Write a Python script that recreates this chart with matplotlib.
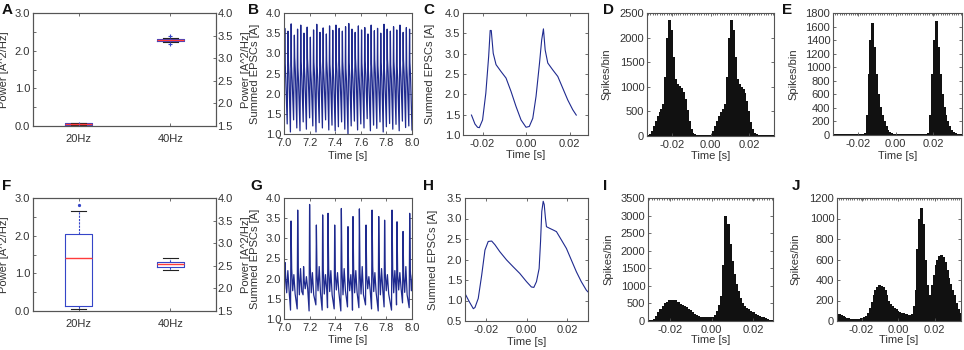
import numpy as np
import matplotlib
matplotlib.use('Agg')
import matplotlib.pyplot as plt
from matplotlib.ticker import MultipleLocator, FormatStrFormatter

plt.rcParams['font.family'] = ['Liberation Sans', 'DejaVu Sans']
plt.rcParams['font.size'] = 8

# ---------------- data ----------------
box_labels = ['20Hz', '40Hz']
# panel A box stats (20Hz, 40Hz)
a_med = [0.05, 2.27]
a_q1 = [0.03, 2.25]
a_q3 = [0.07, 2.30]
a_wlo = [0.02, 2.22]
a_whi = [0.08, 2.33]
a_fliers = [[0.045], [2.39, 2.17]]
# panel F box stats
f_med = [1.40, 1.25]
f_q1 = [0.14, 1.16]
f_q3 = [2.05, 1.31]
f_wlo = [0.06, 1.09]
f_whi = [2.65, 1.42]
f_fliers = [[2.82], []]

# panel B: 40 cycles (trough, peak, shoulder, knee)
b_lo = [1.10, 1.25, 1.05, 1.35, 1.15, 1.08, 1.30, 1.12, 1.40, 1.20, 1.05, 1.28, 1.15, 1.35, 1.10, 1.22, 1.08, 1.18, 1.30, 1.12,
        0.98, 1.20, 1.32, 1.10, 1.25, 1.15, 1.38, 1.08, 1.22, 1.14, 1.30, 1.05, 1.18, 1.26, 1.12, 1.24, 1.08, 1.32, 1.16, 1.20]
b_hi = [3.62, 3.55, 3.73, 3.45, 3.60, 3.70, 3.50, 3.65, 3.40, 3.58, 3.72, 3.52, 3.63, 3.48, 3.68, 3.57, 3.70, 3.62, 3.55, 3.66,
        3.74, 3.60, 3.52, 3.68, 3.58, 3.64, 3.48, 3.70, 3.56, 3.62, 3.50, 3.72, 3.60, 3.55, 3.66, 3.58, 3.70, 3.52, 3.64, 3.60]
b_sh = [2.75, 2.85, 2.70, 2.90, 2.65, 2.80, 2.72, 2.88, 2.60, 2.78, 2.70, 2.85, 2.66, 2.82, 2.74, 2.68, 2.86, 2.72, 2.80, 2.64,
        2.78, 2.70, 2.88, 2.66, 2.76, 2.82, 2.62, 2.74, 2.84, 2.70, 2.78, 2.66, 2.86, 2.72, 2.80, 2.68, 2.76, 2.84, 2.70, 2.78]
b_kn = [2.40, 2.50, 2.35, 2.55, 2.30, 2.45, 2.38, 2.52, 2.28, 2.44, 2.36, 2.50, 2.32, 2.48, 2.40, 2.34, 2.52, 2.38, 2.46, 2.30,
        2.44, 2.36, 2.54, 2.32, 2.42, 2.48, 2.28, 2.40, 2.50, 2.36, 2.44, 2.32, 2.52, 2.38, 2.46, 2.34, 2.42, 2.50, 2.36, 2.44]
b_start = 7.0
b_period = 0.025

# panel C: averaged EPSC waveform
c_t = [-0.0251, -0.0235, -0.0223, -0.0215, -0.0200, -0.0185, -0.0172, -0.0165, -0.0160, -0.0151, -0.0138, -0.0115,
       -0.0092, -0.0069, -0.0046, -0.0023, 0.0000, 0.0015, 0.0031, 0.0046, 0.0062, 0.0072, 0.0080, 0.0088, 0.0100,
       0.0123, 0.0146, 0.0169, 0.0192, 0.0215, 0.0231]
c_v = [1.49, 1.27, 1.19, 1.18, 1.37, 2.03, 2.93, 3.57, 3.57, 3.01, 2.73, 2.56,
       2.40, 2.07, 1.70, 1.37, 1.19, 1.21, 1.41, 1.95, 2.77, 3.34, 3.61, 3.09, 2.77,
       2.60, 2.44, 2.15, 1.86, 1.62, 1.49]

# panel D histogram (1 ms bins from -0.033 s)
d_start = -0.033
d_counts = [30, 40, 100, 200, 300, 400, 480, 550, 650, 1200, 2000, 2350, 2150, 1600, 1150, 1050, 1020, 980, 900, 750,
            520, 300, 150, 70, 40, 30, 30, 30, 30, 30, 30, 30, 30,
            40, 100, 200, 300, 400, 480, 550, 650, 1200, 2000, 2350, 2150, 1600, 1150, 1050, 1000, 950, 880, 720,
            500, 280, 140, 70, 40, 30, 30, 30, 30, 30, 30, 30, 30, 30]
# panel E histogram (1 ms bins from -0.034 s)
e_start = -0.034
e_counts = [20] * 17 + [30, 300, 900, 1400, 1650, 1300, 900, 600, 420, 300, 200, 130, 80, 50, 35] + [20] * 19 + \
           [30, 300, 900, 1400, 1680, 1300, 900, 600, 420, 300, 200, 130, 80, 50, 35] + [20] * 3

# panel G: 20 Hz spikes
g_t = [7.008, 7.055, 7.107, 7.153, 7.200, 7.253, 7.302, 7.344, 7.396, 7.448, 7.500, 7.539, 7.589, 7.641, 7.688,
       7.740, 7.786, 7.844, 7.883, 7.930, 7.982]
g_hi = [2.40, 3.43, 3.70, 2.30, 3.84, 3.33, 3.58, 3.62, 3.33, 3.74, 3.29, 3.54, 3.73, 3.33, 3.70, 3.54, 3.45, 3.70,
        3.41, 3.17, 3.62]
g_lo = [1.75, 1.22, 1.25, 1.60, 1.20, 1.35, 1.22, 1.28, 1.25, 1.20, 1.30, 1.22, 1.28, 1.35, 1.25, 1.20, 1.30, 1.22,
        1.35, 1.40, 1.28]
g_m1 = [2.05, 2.25, 2.15, 1.95, 2.30, 2.10, 2.20, 2.25, 2.10, 2.20, 2.05, 2.25, 2.15, 2.10, 2.30, 2.20, 2.15, 2.25,
        2.10, 2.05, 2.20]
g_m2 = [1.65, 1.70, 1.60, 1.75, 1.65, 1.70, 1.62, 1.68, 1.72, 1.60, 1.70, 1.65, 1.62, 1.75, 1.68, 1.60, 1.70, 1.65,
        1.72, 1.66, 1.70]
g_m3 = [2.20, 2.10, 2.25, 2.05, 2.15, 2.30, 2.10, 2.20, 2.15, 2.25, 2.10, 2.20, 2.30, 2.05, 2.15, 2.25, 2.10, 2.20,
        2.15, 2.30, 2.10]
g_m4 = [1.70, 1.62, 1.68, 1.75, 1.60, 1.65, 1.72, 1.60, 1.68, 1.70, 1.62, 1.66, 1.60, 1.72, 1.65, 1.70, 1.62, 1.68,
        1.75, 1.60, 1.65]

# panel H: averaged EPSC waveform
h_t = [-0.0302, -0.0281, -0.0261, -0.0253, -0.0237, -0.0220, -0.0204, -0.0188, -0.0171, -0.0155, -0.0131, -0.0098,
       -0.0065, -0.0033, 0.0000, 0.0024, 0.0036, 0.0049, 0.0062, 0.0069, 0.0075, 0.0082, 0.0087, 0.0093, 0.0098,
       0.0114, 0.0131, 0.0147, 0.0171, 0.0196, 0.0220, 0.0245, 0.0269, 0.0294, 0.0302]
h_v = [1.17, 0.97, 0.80, 0.83, 1.05, 1.62, 2.23, 2.44, 2.45, 2.36, 2.19, 1.99,
       1.82, 1.66, 1.46, 1.33, 1.32, 1.46, 1.78, 2.44, 3.17, 3.42, 3.34, 3.01, 2.80,
       2.76, 2.72, 2.68, 2.48, 2.27, 1.99, 1.70, 1.46, 1.25, 1.21]

# panel I histogram (1 ms bins from -0.031 s)
i_start = -0.031
i_counts = [40, 40, 40, 60, 150, 250, 350, 430, 500, 550, 590, 610, 610, 590, 530, 480, 450, 420, 390, 340,
            300, 260, 210, 170, 140, 120, 110, 100, 100, 100, 110, 120, 160, 280, 450, 700, 1600, 3000, 2750, 2200,
            1700, 1350, 1050, 850, 650, 520, 440, 380, 330, 290, 250, 210, 180, 150, 120, 100, 80, 60, 40, 40, 40]
# panel J histogram (1 ms bins from -0.034 s)
j_start = -0.034
j_counts = [70, 65, 55, 50, 40, 30, 25, 20, 20, 20, 20, 20, 20, 25, 30, 40, 50, 80, 130, 190,
            250, 300, 330, 350, 345, 330, 300, 250, 200, 170, 150, 130, 115, 100, 90, 80, 75, 70, 65, 60,
            60, 70, 150, 300, 700, 1000, 1100, 950, 600, 350, 220, 250, 350, 450, 550, 600, 630, 640, 620, 580,
            500, 420, 360, 300, 250, 180, 120, 80, 60]
bin_width = 0.001

# ---------------- styling ----------------
W, H = 964, 350
fig = plt.figure(figsize=(W / 100, H / 100), dpi=100)
TXT = '#333333'
SP = '#555555'
BLUE = '#1f2a8f'
BOXBLUE = '#3545c8'
RED = '#ff3b3b'
FS = 8


def add_ax(x0, y0, x1, y1):
    return fig.add_axes([x0 / W, 1 - y1 / H, (x1 - x0) / W, (y1 - y0) / H])


def style(ax, right=True):
    for s in ax.spines.values():
        s.set_color(SP)
        s.set_linewidth(0.8)
    ax.tick_params(which='both', direction='in', length=2.5, width=0.6, color=SP, labelcolor=TXT,
                   labelsize=FS, pad=2, top=True, right=right)
    ax.tick_params(axis='x', pad=3)


def letter(px, py, s):
    fig.text(px / W, 1 - py / H, s, fontsize=11, fontweight='bold', ha='left', va='top', color='#111111')


def labels(ax, ylab, yx, xlab=None, xy=None):
    ax.set_ylabel(ylab, color=TXT, fontsize=FS)
    ax.yaxis.set_label_coords(yx, 0.5)
    if xlab:
        ax.set_xlabel(xlab, color=TXT, fontsize=FS, va='top')
        ax.xaxis.set_label_coords(0.5, xy)


def box_panel(box, med, q1, q3, wlo, whi, fliers, fmarker, letter_pos, lab):
    ax = add_ax(*box)
    stats = []
    for k in range(len(box_labels)):
        stats.append(dict(med=med[k], q1=q1[k], q3=q3[k], whislo=wlo[k], whishi=whi[k], fliers=fliers[k]))
    ax.bxp(stats, positions=[1, 2], widths=0.3, capwidths=0.16,
           boxprops=dict(color=BOXBLUE, lw=0.8),
           medianprops=dict(color=RED, lw=1.0),
           whiskerprops=dict(color=BOXBLUE, ls=(0, (2, 1)), lw=0.8),
           capprops=dict(color='#222222', lw=0.8),
           flierprops=dict(marker=fmarker, markeredgecolor=BOXBLUE, markerfacecolor=BOXBLUE,
                           markersize=3, markeredgewidth=0.8))
    ax.set_xlim(0.5, 2.5)
    ax.set_ylim(0, 3.0)
    ax.set_xticks([1, 2])
    ax.set_xticklabels(box_labels)
    ax.set_yticks([0, 1, 2, 3])
    ax.yaxis.set_minor_locator(MultipleLocator(0.5))
    ax.yaxis.set_major_formatter(FormatStrFormatter('%.1f'))
    style(ax, right=False)
    ax.tick_params(axis='x', pad=6)
    ax.set_ylabel('Power [A^2/Hz]', color=TXT, fontsize=FS)
    ax.yaxis.set_label_coords(-0.132, 0.5)
    ax2 = ax.twinx()
    ax2.set_ylim(1.5, 4.0)
    ax2.set_yticks([1.5, 2.0, 2.5, 3.0, 3.5, 4.0])
    ax2.yaxis.set_major_formatter(FormatStrFormatter('%.1f'))
    for s in ax2.spines.values():
        s.set_color(SP)
        s.set_linewidth(0.8)
    ax2.tick_params(direction='in', length=2.5, width=0.6, color=SP, labelcolor=TXT, labelsize=FS, pad=1)
    ax2.set_ylabel('Power [A^2/Hz]', color=TXT, fontsize=FS)
    ax2.yaxis.set_label_coords(1.138, 0.5)
    letter(*letter_pos, lab)
    return ax


def hist_panel(box, counts, start, xlim, ylim, ystep, letter_pos, lab, yx, xy):
    ax = add_ax(*box)
    edges = start + bin_width * np.arange(len(counts) + 1)
    ax.bar(edges[:-1], counts, width=bin_width * 1.15, align='edge', color='#111111',
           edgecolor='#111111', lw=0.6, antialiased=False)
    ax.set_xlim(*xlim)
    ax.set_ylim(*ylim)
    ax.set_xticks([-0.02, 0.0, 0.02])
    ax.xaxis.set_major_formatter(FormatStrFormatter('%.2f'))
    ax.yaxis.set_major_locator(MultipleLocator(ystep))
    ax.xaxis.set_minor_locator(MultipleLocator(0.0012))
    style(ax)
    ax.tick_params(which='minor', bottom=False, top=True, left=False, right=False, length=1.5)
    labels(ax, 'Spikes/bin', yx, 'Time [s]', xy)
    letter(*letter_pos, lab)
    return ax


def trace_panel(box, t, v, xlim, ylim, xticks, xfmt, letter_pos, lab, yx, xy, lw=0.8):
    ax = add_ax(*box)
    ax.plot(t, v, color=BLUE, lw=lw)
    ax.set_xlim(*xlim)
    ax.set_ylim(*ylim)
    ax.set_xticks(xticks)
    ax.xaxis.set_major_formatter(FormatStrFormatter(xfmt))
    ax.yaxis.set_major_locator(MultipleLocator(0.5))
    ax.yaxis.set_major_formatter(FormatStrFormatter('%.1f'))
    style(ax)
    labels(ax, 'Summed EPSCs [A]', yx, 'Time [s]', xy)
    letter(*letter_pos, lab)
    return ax


# ---- A ----
box_panel((33, 13, 216, 126), a_med, a_q1, a_q3, a_wlo, a_whi, a_fliers, '+', (2, 3), 'A')
# ---- F ----
box_panel((33, 198, 216, 311), f_med, f_q1, f_q3, f_wlo, f_whi, f_fliers, '.', (2, 179), 'F')

# ---- B ----
bt, bv = [], []
for k in range(len(b_lo)):
    t0 = b_start + k * b_period
    bt += [t0, t0 + 0.006, t0 + 0.0085, t0 + 0.0135]
    bv += [b_lo[k], b_hi[k], b_sh[k], b_kn[k]]
bt.append(b_start + len(b_lo) * b_period)
bv.append(b_lo[0])
trace_panel((284, 13, 412, 134), bt, bv, (7.0, 8.0), (1.0, 4.0), [7.0, 7.2, 7.4, 7.6, 7.8, 8.0], '%.1f',
            (248, 3), 'B', -0.19, -0.14, lw=0.9)

# ---- C ----
trace_panel((463, 13, 588, 135), c_t, c_v, (-0.029, 0.0285), (1.0, 4.0), [-0.02, 0.0, 0.02], '%.2f',
            (423, 3), 'C', -0.224, -0.125)

# ---- D ----
hist_panel((647, 13, 774, 136), d_counts, d_start, (-0.033, 0.033), (0, 2500), 500, (603, 3), 'D', -0.276, -0.12)
# ---- E ----
hist_panel((833, 13, 962, 135), e_counts, e_start, (-0.0335, 0.0355), (0, 1800), 200, (782, 3), 'E', -0.271, -0.135)

# ---- G ----
gt, gv = [], []
for k in range(len(g_t)):
    ts = g_t[k]
    gt += [ts - 0.004, ts, ts + 0.005, ts + 0.013, ts + 0.022, ts + 0.032]
    gv += [g_lo[k], g_hi[k], g_m1[k], g_m2[k], g_m3[k], g_m4[k]]
trace_panel((284, 198, 412, 319), gt, gv, (7.0, 8.0), (1.0, 4.0), [7.0, 7.2, 7.4, 7.6, 7.8, 8.0], '%.1f',
            (250, 179), 'G', -0.19, -0.135, lw=0.9)

# ---- H ----
trace_panel((465, 198, 588, 321), h_t, h_v, (-0.0302, 0.0302), (0.5, 3.5), [-0.02, 0.0, 0.02], '%.2f',
            (423, 179), 'H', -0.22, -0.13)

# ---- I ----
hist_panel((648, 198, 773, 321), i_counts, i_start, (-0.0305, 0.0295), (0, 3500), 500, (603, 179), 'I', -0.28, -0.115)
# ---- J ----
hist_panel((837, 198, 961, 321), j_counts, j_start, (-0.0335, 0.0345), (0, 1200), 200, (792, 179), 'J', -0.298, -0.115)

fig.savefig('out.png', dpi=100)
